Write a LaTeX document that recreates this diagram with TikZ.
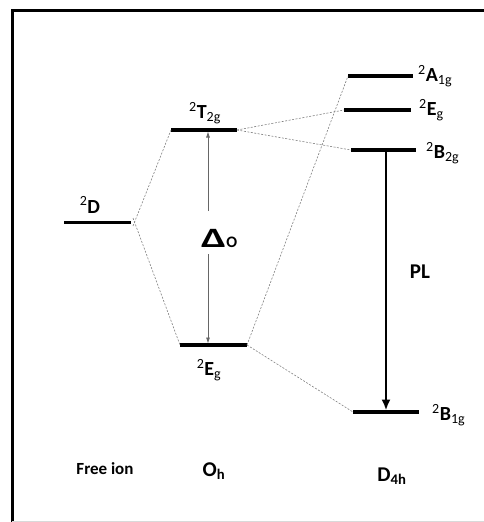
\documentclass[tikz,border=0pt]{standalone}
\usepackage{fontspec}
\setmainfont{Carlito}
\usetikzlibrary{arrows.meta}
\begin{document}
\begin{tikzpicture}[x=1pt,y=-1pt,
  level/.style={line width=3.4pt},
  corr/.style={gray,line width=0.6pt,dash pattern=on 2pt off 1.5pt},
  lbl/.style={font=\fontsize{20}{21}\selectfont,inner sep=0pt},
  gap/.style={gray!80!black,line width=0.7pt,-{Latex[length=6pt,width=4pt]}},
  pl/.style={line width=2.8pt,-{Latex[length=11pt,width=9pt]}},
  axis/.style={font=\fontsize{21}{22}\selectfont\bfseries,inner sep=0pt}]
\useasboundingbox (0,0) rectangle (484,522);
% frame
\draw[line width=3pt] (12,522) -- (12,10) -- (486,10);
\draw[gray!30,line width=1pt] (12,521) -- (486,521);
% levels
\coordinate (Dl) at (64,222);   \coordinate (Dr) at (131,222);
\coordinate (Tl) at (171,130);  \coordinate (Tr) at (237,130);
\coordinate (El) at (180,345);  \coordinate (Er) at (247,345);
\coordinate (Al) at (348,76);   \coordinate (Ar) at (413,76);
\coordinate (Fl) at (344,110);  \coordinate (Fr) at (411,110);
\coordinate (Bl) at (351,150);  \coordinate (Br) at (416,150);
\coordinate (Cl) at (353,412);  \coordinate (Cr) at (419,412);
\draw[line width=3pt] (Dl) -- (Dr);
\foreach \a/\b in {Tl/Tr,El/Er,Al/Ar,Fl/Fr,Bl/Br,Cl/Cr}
  \draw[level] (\a) -- (\b);
% correlation lines
\draw[corr] ([xshift=2pt,yshift=-4pt]Dr) -- (Tl);
\draw[corr] ([xshift=2pt,yshift=4pt]Dr) -- (El);
\draw[corr] (Tr) -- (Fl);
\draw[corr] (Tr) -- (Bl);
\draw[corr] (Er) -- (Al);
\draw[corr] (Er) -- (Cl);
% labels
\node[lbl] (lD) at (90,205) {\textsuperscript{2}\textbf{D}};
\node[lbl] (lT) at (205,113) {\textsuperscript{2}\textbf{T}\textsubscript{2g}};
\node[lbl] (lE) at (209,370) {\textsuperscript{2}\textbf{E}\textsubscript{g}};
\node[lbl,anchor=west] (lA) at (418,76) {\textsuperscript{2}\textbf{A}\textsubscript{1g}};
\node[lbl,anchor=west] (lF) at (419,110) {\textsuperscript{2}\textbf{E}\textsubscript{g}};
\node[lbl,anchor=west] (lB) at (426,153) {\textsuperscript{2}\textbf{B}\textsubscript{2g}};
\node[lbl,anchor=west] (lC) at (432,415) {\textsuperscript{2}\textbf{B}\textsubscript{1g}};
% Delta_o
\node[inner sep=0pt,anchor=base west] (delta) at (201,247) {\fontsize{28}{30}\selectfont\scalebox{1.55}[1]{\textbf{Δ}}\fontsize{16}{16}\selectfont\textbf{O}};
\coordinate (dup) at (208,211);
\coordinate (ddn) at (208,254);
\draw[gap] (dup) -- (208,131.5);
\draw[gap] (ddn) -- (208,343.5);
% PL
\draw[pl] (386,150) -- (386,410.5);
\node[axis] (PL) at (420,272) {PL};
% bottom labels
\node[font=\fontsize{17}{18}\selectfont\bfseries,inner sep=0pt] (free) at (105,469) {Free ion};
\node[axis] (Oh) at (214,471) {O\textsubscript{h}};
\node[axis] (D4h) at (392,476) {D\textsubscript{4h}};
\end{tikzpicture}
\end{document}
